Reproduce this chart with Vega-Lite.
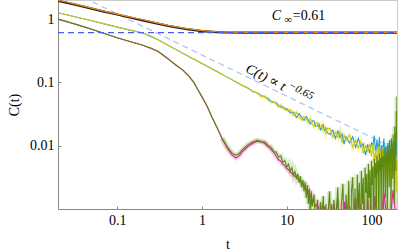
{
"$schema": "https://vega.github.io/schema/vega-lite/v6.json",
"width": 339, "height": 209,
"autosize": {"type": "none"},
"padding": {"left": 58, "top": 0, "right": 1, "bottom": 41},
"background": "white",
"config": {
  "view": {"stroke": "#cccccc", "strokeWidth": 1},
  "font": "Liberation Serif, Times New Roman, DejaVu Serif, serif",
  "axis": {"labelFont": "Liberation Serif, Times New Roman, DejaVu Serif, serif", "labelFontSize": 14, "labelColor": "#000", "titleFont": "Liberation Serif, Times New Roman, DejaVu Serif, serif", "titleFontSize": 14, "titleFontWeight": "normal", "titleColor": "#000", "domainColor": "#888", "tickColor": "#888", "grid": false, "tickSize": -3, "labelFlush": false}
},
"datasets": {
  "top": [{"t":0.02,"v":1.93},{"t":0.025,"v":1.82},{"t":0.03,"v":1.72},{"t":0.04,"v":1.57},{"t":0.05,"v":1.46},{"t":0.07,"v":1.31},{"t":0.1,"v":1.18},{"t":0.15,"v":1.04},{"t":0.2,"v":0.955},{"t":0.3,"v":0.845},{"t":0.4,"v":0.78},{"t":0.5,"v":0.74},{"t":0.7,"v":0.685},{"t":1,"v":0.645},{"t":1.5,"v":0.62},{"t":2,"v":0.613},{"t":3,"v":0.61},{"t":200,"v":0.61}],
  "orange": [{"t":0.02,"v":1.97},{"t":0.025,"v":1.86},{"t":0.03,"v":1.755},{"t":0.04,"v":1.6},{"t":0.05,"v":1.49},{"t":0.07,"v":1.335},{"t":0.1,"v":1.2},{"t":0.15,"v":1.06},{"t":0.2,"v":0.975},{"t":0.3,"v":0.862},{"t":0.4,"v":0.795},{"t":0.5,"v":0.754},{"t":0.7,"v":0.698},{"t":1,"v":0.656},{"t":1.5,"v":0.63},{"t":2,"v":0.622},{"t":3,"v":0.617},{"t":5,"v":0.619},{"t":8,"v":0.613},{"t":12,"v":0.618},{"t":20,"v":0.612},{"t":30,"v":0.619},{"t":45,"v":0.611},{"t":60,"v":0.62},{"t":80,"v":0.612},{"t":100,"v":0.618},{"t":120,"v":0.61},{"t":140,"v":0.621},{"t":160,"v":0.612},{"t":180,"v":0.619},{"t":200,"v":0.613}],
  "yellow": [{"t":0.02,"v":1.26},{"t":0.025,"v":1.18},{"t":0.03,"v":1.11},{"t":0.04,"v":1.01},{"t":0.05,"v":0.94},{"t":0.07,"v":0.845},{"t":0.1,"v":0.745},{"t":0.15,"v":0.655},{"t":0.2,"v":0.603},{"t":0.25,"v":0.54},{"t":0.3,"v":0.475},{"t":0.4,"v":0.384},{"t":0.5,"v":0.326},{"t":0.7,"v":0.254},{"t":1,"v":0.198},{"t":1.5,"v":0.15},{"t":2,"v":0.12},{"t":2.5,"v":0.102},
    {"t":3,"v":0.089},{"t":3.5,"v":0.0814},{"t":4,"v":0.0711},{"t":4.5,"v":0.0688},{"t":5,"v":0.0601},{"t":5.5,"v":0.0601},{"t":6,"v":0.0536},{"t":6.5,"v":0.049},{"t":7,"v":0.0496},{"t":7.5,"v":0.0463},{"t":8,"v":0.0415},{"t":8.5,"v":0.0435},{"t":9,"v":0.0392},{"t":9.5,"v":0.0392},{"t":10,"v":0.0359},
    {"t":11,"v":0.0368},{"t":12,"v":0.0304},{"t":13,"v":0.0335},{"t":14,"v":0.0286},{"t":15,"v":0.0256},{"t":16,"v":0.0288},{"t":17,"v":0.0263},{"t":18,"v":0.0233},{"t":19,"v":0.0263},{"t":20,"v":0.0222},{"t":21,"v":0.0201},{"t":22,"v":0.0227},{"t":23,"v":0.0229},{"t":24,"v":0.0188},{"t":25,"v":0.0194},{"t":26,"v":0.0214},{"t":27,"v":0.0175},{"t":28,"v":0.0191},{"t":29,"v":0.0159},{"t":30,"v":0.0186},
    {"t":32.5,"v":0.0187},{"t":35,"v":0.0138},{"t":37.5,"v":0.0161},{"t":40,"v":0.0135},{"t":42.5,"v":0.0168},{"t":45,"v":0.0115},{"t":47.5,"v":0.0144},{"t":50,"v":0.0123},{"t":55,"v":0.0146},{"t":60,"v":0.0094},{"t":65,"v":0.0121},{"t":70,"v":0.0092},{"t":75,"v":0.0116},{"t":80,"v":0.0076},{"t":85,"v":0.0099},{"t":90,"v":0.0082},{"t":95,"v":0.0107},{"t":100,"v":0.0068},
    {"t":104,"v":0.0107},{"t":108,"v":0.0055},{"t":112,"v":0.0085},{"t":116,"v":0.0041},{"t":120,"v":0.0101},{"t":124,"v":0.0056},{"t":128,"v":0.0082},{"t":132,"v":0.004},{"t":136,"v":0.0096},{"t":140,"v":0.004},{"t":144,"v":0.0067},{"t":148,"v":0.003},{"t":152,"v":0.0078},{"t":156,"v":0.0042},{"t":160,"v":0.0088},{"t":164,"v":0.003},{"t":168,"v":0.0064},{"t":172,"v":0.0023},{"t":176,"v":0.0071},{"t":180,"v":0.0034},{"t":184,"v":0.0061},{"t":188,"v":0.0024},{"t":192,"v":0.0071},{"t":196,"v":0.0018},{"t":200,"v":0.0059}],
  "blue": [{"t":0.02,"v":1.26},{"t":0.05,"v":0.94},{"t":0.1,"v":0.745},{"t":0.2,"v":0.603},{"t":0.3,"v":0.475},{"t":0.5,"v":0.326},{"t":1,"v":0.198},{"t":2,"v":0.12},{"t":2.5,"v":0.102},
    {"t":3,"v":0.089},{"t":3.5,"v":0.0806},{"t":4,"v":0.0719},{"t":4.5,"v":0.0681},{"t":5,"v":0.0614},{"t":5.5,"v":0.059},{"t":6,"v":0.0557},{"t":6.5,"v":0.0505},{"t":7,"v":0.0482},{"t":7.5,"v":0.0476},{"t":8,"v":0.0433},{"t":8.5,"v":0.0405},{"t":9,"v":0.0412},{"t":9.5,"v":0.0376},{"t":10,"v":0.0385},
    {"t":11,"v":0.033},{"t":12,"v":0.034},{"t":13,"v":0.0279},{"t":14,"v":0.0319},{"t":15,"v":0.0281},{"t":16,"v":0.025},{"t":17,"v":0.0289},{"t":18,"v":0.0255},{"t":19,"v":0.022},{"t":20,"v":0.0247},{"t":21,"v":0.0245},{"t":22,"v":0.0203},{"t":23,"v":0.0204},{"t":24,"v":0.022},{"t":25,"v":0.0178},{"t":26,"v":0.0193},{"t":27,"v":0.0212},{"t":28,"v":0.0175},{"t":29,"v":0.019},{"t":30,"v":0.0161},
    {"t":32.5,"v":0.015},{"t":35,"v":0.0176},{"t":37.5,"v":0.013},{"t":40,"v":0.0169},{"t":42.5,"v":0.0135},{"t":45,"v":0.0153},{"t":47.5,"v":0.0106},{"t":50,"v":0.0139},{"t":55,"v":0.011},{"t":60,"v":0.0138},{"t":65,"v":0.0094},{"t":70,"v":0.0131},{"t":75,"v":0.0096},{"t":80,"v":0.0107},{"t":85,"v":0.0071},{"t":90,"v":0.0105},{"t":95,"v":0.0077},{"t":100,"v":0.011},
    {"t":104,"v":0.0103},{"t":108,"v":0.0144},{"t":112,"v":0.0075},{"t":116,"v":0.0124},{"t":120,"v":0.0081},{"t":124,"v":0.0137},{"t":128,"v":0.0057},{"t":132,"v":0.0102},{"t":136,"v":0.0081},{"t":140,"v":0.013},{"t":144,"v":0.0064},{"t":148,"v":0.0099},{"t":152,"v":0.0045},{"t":156,"v":0.0102},{"t":160,"v":0.0077},{"t":164,"v":0.0121},{"t":168,"v":0.0052},{"t":172,"v":0.0091},{"t":176,"v":0.0061},{"t":180,"v":0.0117},{"t":184,"v":0.0055},{"t":188,"v":0.0087},{"t":192,"v":0.0063},{"t":196,"v":0.016},{"t":200,"v":0.0069}],
  "green": [{"t":0.02,"v":1.0},{"t":0.025,"v":0.92},{"t":0.03,"v":0.86},{"t":0.04,"v":0.76},{"t":0.05,"v":0.69},{"t":0.07,"v":0.59},{"t":0.1,"v":0.505},{"t":0.15,"v":0.43},{"t":0.2,"v":0.385},{"t":0.25,"v":0.35},{"t":0.3,"v":0.31},{"t":0.35,"v":0.272},{"t":0.42,"v":0.222},{"t":0.5,"v":0.185},{"t":0.6,"v":0.155},{"t":0.7,"v":0.125},{"t":0.8,"v":0.1},{"t":0.92,"v":0.072},{"t":1.0,"v":0.059},{"t":1.15,"v":0.042},{"t":1.3,"v":0.029},{"t":1.5,"v":0.0195},{"t":1.72,"v":0.0132},{"t":2.0,"v":0.0094},{"t":2.25,"v":0.0077},{"t":2.5,"v":0.0071},{"t":2.75,"v":0.0075},{"t":3.0,"v":0.0087},{"t":3.5,"v":0.0104},{"t":4.0,"v":0.0115},
    {"t":4.5,"v":0.0121},{"t":5,"v":0.0116},{"t":5.5,"v":0.0115},{"t":6,"v":0.0101},{"t":6.5,"v":0.0096},{"t":7,"v":0.0081},{"t":7.5,"v":0.0079},{"t":8,"v":0.0066},{"t":8.5,"v":0.0069},{"t":9,"v":0.0055},{"t":9.5,"v":0.0058},{"t":10,"v":0.0046},{"t":10.5,"v":0.0051},{"t":11,"v":0.004},{"t":11.5,"v":0.0045},{"t":12,"v":0.0034},{"t":12.5,"v":0.0039},{"t":13,"v":0.0031},{"t":13.5,"v":0.0036},{"t":14,"v":0.0026},{"t":14.5,"v":0.0033},{"t":15,"v":0.0022},{"t":15.5,"v":0.0029},{"t":16,"v":0.0019},{"t":16.5,"v":0.0027},{"t":17,"v":0.0015},{"t":17.5,"v":0.0024},{"t":18,"v":0.0012},{"t":18.5,"v":0.0021},{"t":19,"v":0.0007},{"t":19.5,"v":0.0019},{"t":20,"v":0.0011},{"t":21,"v":0.0017},{"t":22,"v":0.0004},{"t":23,"v":0.0014},{"t":24,"v":0.0004},{"t":25,"v":0.0013},{"t":26,"v":0.0008},{"t":27,"v":0.0016},{"t":28,"v":0.0003},{"t":29,"v":0.0012},{"t":30,"v":0.0005},
    {"t":32,"v":0.0019},{"t":34,"v":0.0002},{"t":36,"v":0.0014},{"t":38,"v":0.0006},{"t":40,"v":0.0022},{"t":42,"v":0.0003},{"t":44,"v":0.0011},{"t":46,"v":0.0025},{"t":48,"v":0.0002},{"t":50,"v":0.0017},{"t":52,"v":0.0007},{"t":54,"v":0.0028},{"t":56,"v":0.0001},{"t":58,"v":0.0019},{"t":60,"v":0.0032},{"t":62,"v":0.0004},{"t":64,"v":0.0021},{"t":66,"v":0.0001},{"t":68,"v":0.0035},{"t":70,"v":0.0009},{"t":72,"v":0.0026},{"t":74,"v":0.0002},{"t":76,"v":0.004},{"t":78,"v":0.0012},{"t":80,"v":0.0031},{"t":82,"v":0.0001},{"t":84,"v":0.0045},{"t":86,"v":0.0018},{"t":88,"v":0.0036},{"t":90,"v":0.0003},{"t":92,"v":0.0052},{"t":94,"v":0.0015},{"t":96,"v":0.0041},{"t":98,"v":0.0002},{"t":100,"v":0.0058},
    {"t":102,"v":0.0024},{"t":104,"v":0.0047},{"t":106,"v":0.0001},{"t":108,"v":0.0062},{"t":110,"v":0.0031},{"t":112,"v":0.0053},{"t":114,"v":0.0004},{"t":116,"v":0.007},{"t":118,"v":0.0036},{"t":120,"v":0.0058},{"t":122,"v":0.0002},{"t":124,"v":0.0075},{"t":126,"v":0.0041},{"t":128,"v":0.0064},{"t":130,"v":0.0009},{"t":132,"v":0.0082},{"t":134,"v":0.0046},{"t":136,"v":0.0068},{"t":138,"v":0.0003},{"t":140,"v":0.0088},{"t":142,"v":0.005},{"t":144,"v":0.0072},{"t":146,"v":0.0015},{"t":148,"v":0.0095},{"t":150,"v":0.0055},{"t":152,"v":0.0078},{"t":154,"v":0.0004},{"t":156,"v":0.011},{"t":158,"v":0.006},{"t":160,"v":0.0085},{"t":162,"v":0.0022},{"t":164,"v":0.012},{"t":166,"v":0.0064},{"t":168,"v":0.009},{"t":170,"v":0.0006},{"t":172,"v":0.013},{"t":174,"v":0.0072},{"t":176,"v":0.0098},{"t":178,"v":0.003},{"t":180,"v":0.015},{"t":182,"v":0.0078},{"t":184,"v":0.011},{"t":186,"v":0.0012},{"t":188,"v":0.02},{"t":190,"v":0.0085},{"t":192,"v":0.016},{"t":194,"v":0.004},{"t":196,"v":0.035},{"t":198,"v":0.013},{"t":200,"v":0.06}],
  "magenta": [{"t":0.02,"v":1.0},{"t":0.05,"v":0.69},{"t":0.1,"v":0.505},{"t":0.2,"v":0.385},{"t":0.3,"v":0.31},{"t":0.42,"v":0.222},{"t":0.5,"v":0.185},{"t":0.6,"v":0.155},{"t":0.7,"v":0.125},{"t":0.8,"v":0.1},{"t":0.92,"v":0.072},{"t":1.0,"v":0.059},{"t":1.15,"v":0.042},{"t":1.3,"v":0.029},{"t":1.5,"v":0.0195},{"t":1.72,"v":0.013},{"t":2.0,"v":0.009},{"t":2.25,"v":0.0072},{"t":2.5,"v":0.0064},{"t":2.75,"v":0.0069},{"t":3.0,"v":0.0081},{"t":3.5,"v":0.0098},{"t":4.0,"v":0.011},
    {"t":4.5,"v":0.0118},{"t":5,"v":0.0115},{"t":5.5,"v":0.0108},{"t":6,"v":0.0097},{"t":6.5,"v":0.0088},{"t":7,"v":0.0079},{"t":7.5,"v":0.0068},{"t":8,"v":0.006},{"t":8.5,"v":0.0057},{"t":9,"v":0.0051},{"t":9.5,"v":0.0048},{"t":10,"v":0.0044},{"t":10.5,"v":0.0042},{"t":11,"v":0.0038},{"t":11.5,"v":0.0037},{"t":12,"v":0.0034},{"t":12.5,"v":0.0033},{"t":13,"v":0.0032},{"t":13.5,"v":0.003},{"t":14,"v":0.0029},{"t":14.5,"v":0.0027},{"t":15,"v":0.0026},{"t":15.5,"v":0.0024},{"t":16,"v":0.0023},{"t":16.5,"v":0.0022},{"t":17,"v":0.002},{"t":17.5,"v":0.0021},{"t":18,"v":0.0019},{"t":18.5,"v":0.0018},{"t":19,"v":0.0016},{"t":19.5,"v":0.0015},{"t":20,"v":0.0014},{"t":21,"v":0.0013},{"t":22,"v":0.0011},{"t":23,"v":0.0012},{"t":24,"v":0.001},{"t":25,"v":0.0009},{"t":26,"v":0.001},{"t":27,"v":0.0005},{"t":28,"v":0.0011},{"t":29,"v":0.0004},{"t":30,"v":0.0009},{"t":32,"v":0.0003},{"t":34,"v":0.0012},{"t":36,"v":0.0002},{"t":38,"v":0.0009},{"t":40,"v":0.0014},{"t":42,"v":0.0002},{"t":44,"v":0.0008},{"t":46,"v":0.0001},{"t":48,"v":0.0013},{"t":50,"v":0.0003},{"t":55,"v":0.0011},{"t":60,"v":0.0002},{"t":65,"v":0.0015},{"t":70,"v":0.0003},{"t":75,"v":0.0012},{"t":80,"v":0.0001},{"t":90,"v":0.0014},{"t":100,"v":0.0002},{"t":110,"v":0.0016},{"t":120,"v":0.0003},{"t":140,"v":0.0018},{"t":160,"v":0.0004},{"t":180,"v":0.002},{"t":200,"v":0.0005}],
  "powerlaw": [{"t":0.04,"v":2.19},{"t":155,"v":0.0102}],
  "plateau": [{"t":0.02,"v":0.61},{"t":200,"v":0.61}],
  "cinf_c": [{"t":6.64,"v":1.115,"label":"C"}],
  "cinf_sub": [{"t":9.34,"v":0.964,"label":"∞"}],
  "cinf_val": [{"t":11.78,"v":1.115,"label":"=0.61"}],
  "pl_main": [{"t":3.36,"v":0.169,"label":"C(t) ∝ t"}],
  "pl_exp": [{"t":10.7,"v":0.0914,"label":"−0.65"}]
},
"encoding": {
  "x": {"field": "t", "type": "quantitative", "scale": {"type": "log", "domain": [0.02, 200], "nice": false}, "axis": {"values": [0.1, 1, 10, 100], "format": "~g", "title": "t", "labelPadding": 7, "titlePadding": 10}},
  "y": {"field": "v", "type": "quantitative", "scale": {"type": "log", "domain": [0.001, 2], "nice": false}, "axis": {"values": [0.01, 0.1, 1], "format": "~g", "title": "C(t)", "labelPadding": 7, "titlePadding": 8}}
},
"layer": [
  {"data": {"name": "powerlaw"}, "mark": {"type": "line", "color": "#aec7f3", "strokeWidth": 1.3, "strokeDash": [6, 4], "clip": true}},
  {"data": {"name": "yellow"}, "transform": [{"filter": "datum.t > 4"}], "mark": {"type": "line", "color": "#e8e070", "strokeWidth": 4, "opacity": 0.35, "clip": true}},
  {"data": {"name": "magenta"}, "transform": [{"filter": "datum.t > 1.5"}], "mark": {"type": "line", "color": "#f090c8", "strokeWidth": 5, "opacity": 0.35, "clip": true}},
  {"data": {"name": "green"}, "transform": [{"filter": "datum.t > 1.5"}], "mark": {"type": "line", "color": "#98c070", "strokeWidth": 5, "opacity": 0.35, "clip": true}},
  {"data": {"name": "blue"}, "mark": {"type": "line", "color": "#1f9ed8", "strokeWidth": 1.1, "clip": true}},
  {"data": {"name": "yellow"}, "mark": {"type": "line", "color": "#d2c80c", "strokeWidth": 1.1, "clip": true}},
  {"data": {"name": "magenta"}, "mark": {"type": "line", "color": "#e0209a", "strokeWidth": 1.1, "clip": true}},
  {"data": {"name": "green"}, "mark": {"type": "line", "color": "#5c8a10", "strokeWidth": 1.1, "clip": true}},
  {"data": {"name": "top"}, "mark": {"type": "line", "color": "#1a1a1a", "strokeWidth": 2.2, "clip": true}},
  {"data": {"name": "orange"}, "mark": {"type": "line", "color": "#f08a1c", "strokeWidth": 1.2, "clip": true}},
  {"data": {"name": "plateau"}, "mark": {"type": "line", "color": "#4b5cf0", "strokeWidth": 1.3, "strokeDash": [6, 4], "clip": true}},
  {"data": {"name": "cinf_c"}, "mark": {"type": "text", "font": "Liberation Serif, Times New Roman, DejaVu Serif, serif", "fontSize": 14, "fontStyle": "italic", "align": "left", "baseline": "middle", "color": "#000"}, "encoding": {"text": {"field": "label"}}},
  {"data": {"name": "cinf_sub"}, "mark": {"type": "text", "font": "Liberation Serif, Times New Roman, DejaVu Serif, serif", "fontSize": 11, "align": "left", "baseline": "middle", "color": "#000"}, "encoding": {"text": {"field": "label"}}},
  {"data": {"name": "cinf_val"}, "mark": {"type": "text", "font": "Liberation Serif, Times New Roman, DejaVu Serif, serif", "fontSize": 14, "align": "left", "baseline": "middle", "color": "#000"}, "encoding": {"text": {"field": "label"}}},
  {"data": {"name": "pl_main"}, "mark": {"type": "text", "font": "Liberation Serif, Times New Roman, DejaVu Serif, serif", "fontSize": 14, "fontStyle": "italic", "align": "left", "baseline": "middle", "angle": 27, "color": "#000"}, "encoding": {"text": {"field": "label"}}},
  {"data": {"name": "pl_exp"}, "mark": {"type": "text", "font": "Liberation Serif, Times New Roman, DejaVu Serif, serif", "fontSize": 11, "fontStyle": "italic", "align": "left", "baseline": "middle", "angle": 27, "color": "#000"}, "encoding": {"text": {"field": "label"}}}
]
}
